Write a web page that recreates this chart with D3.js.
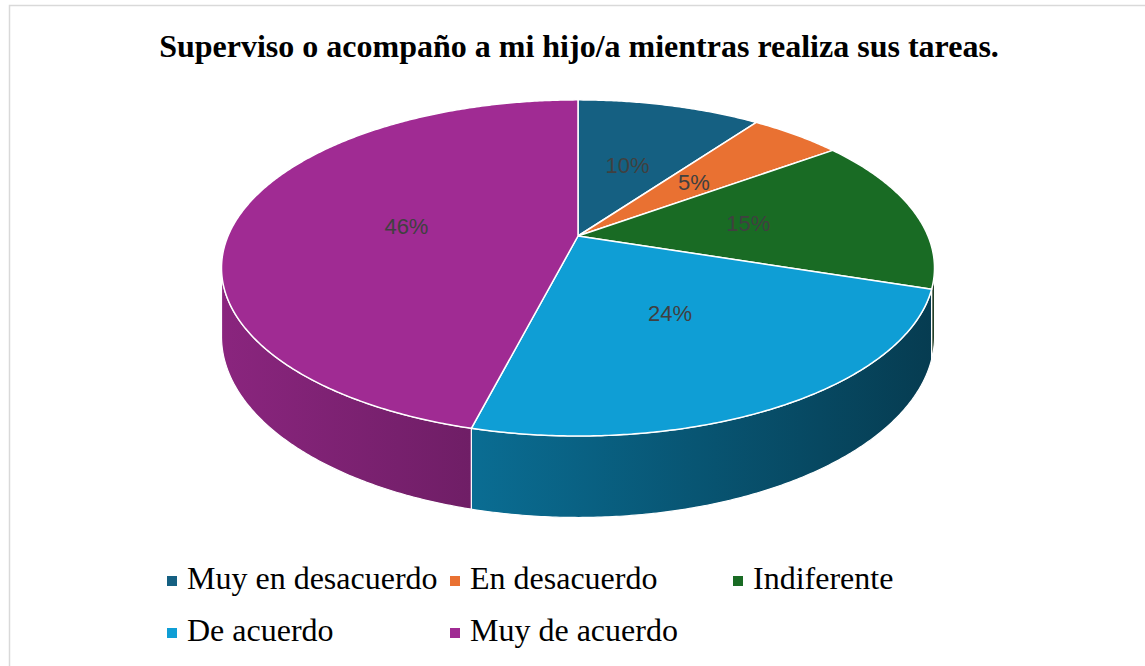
<!DOCTYPE html>
<html>
<head>
<meta charset="utf-8">
<title>Superviso o acompaño</title>
<script src="https://cdn.jsdelivr.net/npm/d3@7"></script>
<style>
body { margin: 0; background: #fff; }
.title { font: bold 32px "Liberation Serif", "Times New Roman", serif; fill: #000; }
.pct { font: 22px "Liberation Sans", Arial, sans-serif; fill: #404040; }
.legend text { font: 32px "Liberation Serif", "Times New Roman", serif; fill: #000; }
</style>
</head>
<body>
<script>
// data
var categories = ["Muy en desacuerdo", "En desacuerdo", "Indiferente", "De acuerdo", "Muy de acuerdo"];
var values = [10, 5, 15, 24, 46];
var colors = ["#156082", "#E97132", "#196B24", "#0F9ED5", "#A02B93"];
var titleText = "Superviso o acompaño a mi hijo/a mientras realiza sus tareas.";

var width = 1145, height = 666;

var svg = d3.select("body").append("svg")
    .attr("width", width)
    .attr("height", height);

// chart border
svg.append("rect")
    .attr("x", 9.5).attr("y", 5.5)
    .attr("width", width + 20).attr("height", height + 20)
    .attr("fill", "none")
    .attr("stroke", "#d9d9d9")
    .attr("stroke-width", 1.5);

svg.append("text")
    .attr("class", "title")
    .attr("x", 579)
    .attr("y", 57)
    .attr("text-anchor", "middle")
    .text(titleText);

// 3d pie: a disk seen in perspective
var cx = 578, cy = 236, sx = 350, sy = 162, k = 0.19, depth = 66;

function proj(theta, f, h) {
  var u = f * Math.sin(theta), v = -f * Math.cos(theta);
  var w = 1 - k * v;
  return [cx + sx * u / w, cy + (sy * v + h) / w];
}

function arcPoints(a0, a1, h) {
  var n = Math.max(2, Math.ceil(Math.abs(a1 - a0) / (Math.PI / 360)));
  var pts = [];
  for (var i = 0; i <= n; i++) {
    pts.push(proj(a0 + (a1 - a0) * i / n, 1, h));
  }
  return pts;
}

var pie = d3.pie().sort(null).value(function(d) { return d; })
    .startAngle(0).endAngle(2 * Math.PI);
var arcs = pie(values);

var line = d3.line();

// visible part of the rim (front)
var thL = Math.PI / 2 + Math.asin(k), thR = 3 * Math.PI / 2 - Math.asin(k);
var xLeft = proj(thR, 1, 0)[0], xRight = proj(thL, 1, 0)[0];
var shade = d3.scaleLinear().domain([xLeft, xRight]).range([0.86, 0.38]);

function shaded(c, f) {
  var col = d3.rgb(c);
  return d3.rgb(col.r * f, col.g * f, col.b * f).formatHex();
}

var defs = svg.append("defs");
var sides = svg.append("g");

arcs.forEach(function(a, i) {
  var s = Math.max(a.startAngle, thL), e = Math.min(a.endAngle, thR);
  if (s >= e) return;
  var top = arcPoints(s, e, 0);
  var bottom = arcPoints(e, s, depth);
  var xs = top.map(function(p) { return p[0]; });
  var x0 = d3.min(xs), x1 = d3.max(xs);
  var gid = "side" + i;
  var g = defs.append("linearGradient")
      .attr("id", gid)
      .attr("gradientUnits", "userSpaceOnUse")
      .attr("x1", x0).attr("x2", x1).attr("y1", 0).attr("y2", 0);
  g.append("stop").attr("offset", 0).attr("stop-color", shaded(colors[i], shade(x0)));
  g.append("stop").attr("offset", 1).attr("stop-color", shaded(colors[i], shade(x1)));
  sides.append("path")
      .attr("d", line(top.concat(bottom)) + "Z")
      .attr("fill", "url(#" + gid + ")")
      .attr("stroke", "#fff")
      .attr("stroke-width", 1.2)
      .attr("stroke-linejoin", "round");
});

// top faces
svg.append("g").selectAll("path")
    .data(arcs)
    .enter().append("path")
    .attr("d", function(a) {
      return line([proj(0, 0, 0)].concat(arcPoints(a.startAngle, a.endAngle, 0))) + "Z";
    })
    .attr("fill", function(a, i) { return colors[i]; })
    .attr("stroke", "#fff")
    .attr("stroke-width", 1.5)
    .attr("stroke-linejoin", "round");

// percentage labels
svg.append("g").selectAll("text")
    .data(arcs)
    .enter().append("text")
    .attr("class", "pct")
    .attr("text-anchor", "middle")
    .attr("dy", "0.35em")
    .attr("x", function(a) { return proj((a.startAngle + a.endAngle) / 2, 0.5, 0)[0]; })
    .attr("y", function(a) { return proj((a.startAngle + a.endAngle) / 2, 0.5, 0)[1]; })
    .text(function(a) { return a.value + "%"; });

// legend
var legend = svg.append("g").attr("class", "legend")
    .selectAll("g")
    .data(categories)
    .enter().append("g")
    .attr("transform", function(d, i) {
      return "translate(" + (167 + (i % 3) * 283) + "," + (589 + Math.floor(i / 3) * 52) + ")";
    });

legend.append("rect")
    .attr("x", 0).attr("y", -13)
    .attr("width", 10).attr("height", 10)
    .attr("fill", function(d, i) { return colors[i]; });

legend.append("text")
    .attr("x", 20)
    .attr("y", 0)
    .text(function(d) { return d; });
</script>
</body>
</html>
